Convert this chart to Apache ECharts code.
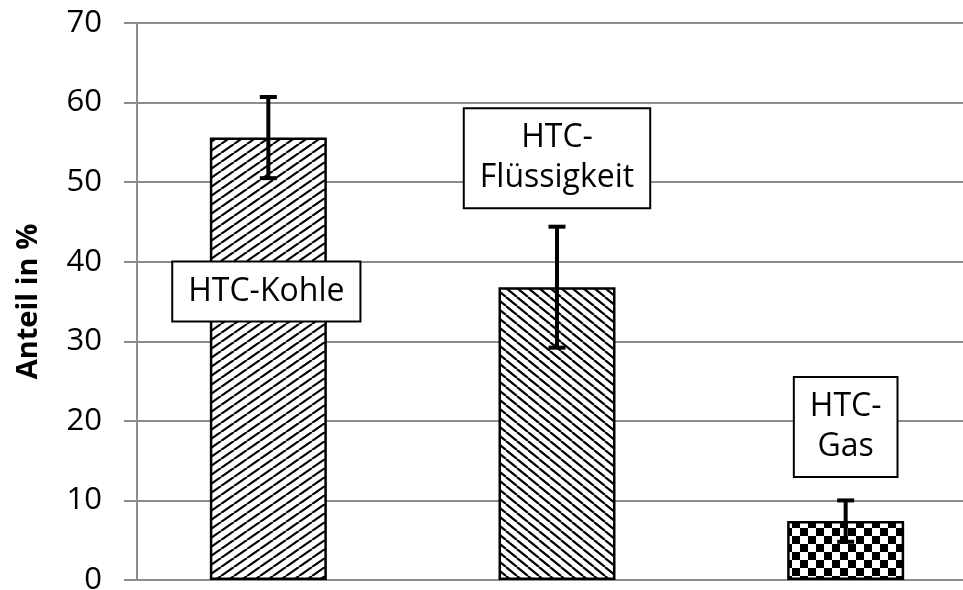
<!DOCTYPE html>
<html>
<head>
<meta charset="utf-8">
<script src="https://cdn.jsdelivr.net/npm/echarts@6/dist/echarts.min.js"></script>
<style>
html, body { margin: 0; padding: 0; background: #fff; }
#chart { width: 963px; height: 590px; }
</style>
</head>
<body>
<div id="chart"></div>
<script>
// data
var categories = ['HTC-Kohle', 'HTC-Flüssigkeit', 'HTC-Gas'];
var labelTexts = ['HTC-Kohle', 'HTC-\nFlüssigkeit', 'HTC-\nGas'];
var shares = [55.6, 36.8, 7.4];
var errLow = [50.5, 29.2, 4.8];
var errHigh = [60.7, 44.4, 10.0];

var FONT = '"Open Sans", "Noto Sans", sans-serif';
var GRID_COLOR = '#8c8c8c';

// fill patterns like the excel ones
function makeTile(kind) {
  var c = document.createElement('canvas');
  var w = 16, h = 16;
  if (kind === 'fwd') { w = 13; h = 9; }
  if (kind === 'back') { w = 11; h = 9; }
  c.width = w; c.height = h;
  var g = c.getContext('2d');
  g.fillStyle = '#fff';
  g.fillRect(0, 0, w, h);
  g.fillStyle = '#000';
  g.strokeStyle = '#000';
  g.lineWidth = 2.2;
  if (kind === 'check') {
    g.fillRect(0, 0, 8, 8);
    g.fillRect(8, 8, 8, 8);
  } else {
    g.beginPath();
    for (var k = -1; k <= 1; k++) {
      var dx = k * w;
      if (kind === 'fwd') {
        g.moveTo(dx, h); g.lineTo(dx + w, 0);
      } else {
        g.moveTo(dx, 0); g.lineTo(dx + w, h);
      }
    }
    g.stroke();
  }
  return c;
}
var tiles = [makeTile('fwd'), makeTile('back'), makeTile('check')];
var labelOffsets = [[-2, 183], [0, -80], [0, -45]];

var barData = shares.map(function (v, i) {
  return {
    value: v,
    itemStyle: { color: { image: tiles[i], repeat: 'repeat' } },
    label: {
      show: true,
      position: 'top',
      distance: 0,
      offset: labelOffsets[i],
      formatter: labelTexts[i]
    }
  };
});

var errData = categories.map(function (c, i) {
  return [i, errLow[i], errHigh[i]];
});

var chart = echarts.init(document.getElementById('chart'));
chart.setOption({
  animation: false,
  grid: {
    left: 124, width: 866, top: 23, bottom: 10,
    containLabel: false,
    outerBoundsMode: 'none'
  },
  xAxis: {
    type: 'category',
    data: categories,
    axisLine: { show: false },
    axisTick: { show: false },
    axisLabel: { show: false }
  },
  yAxis: {
    type: 'value',
    min: 0,
    max: 70,
    interval: 10,
    offset: -13,
    name: 'Anteil in %',
    nameLocation: 'middle',
    nameGap: 94,
    nameTextStyle: { fontFamily: FONT, fontSize: 29, fontWeight: 'bold', color: '#000' },
    axisLine: { show: true, lineStyle: { color: GRID_COLOR, width: 2 } },
    axisTick: { show: false },
    axisLabel: { fontFamily: FONT, fontSize: 31, color: '#000', margin: 35 },
    splitLine: { show: true, lineStyle: { color: GRID_COLOR, width: 2 } }
  },
  series: [
    {
      type: 'bar',
      data: barData,
      barWidth: 117,
      itemStyle: { borderColor: '#000', borderWidth: 2.5 },
      label: {
        fontFamily: FONT,
        fontSize: 32,
        lineHeight: 40,
        color: '#000',
        backgroundColor: '#fff',
        borderColor: '#000',
        borderWidth: 2,
        padding: [9, 15]
      },
      z: 2
    },
    {
      type: 'custom',
      data: errData,
      encode: { x: 0, y: [1, 2] },
      z: 3,
      renderItem: function (params, api) {
        var lo = api.coord([api.value(0), api.value(1)]);
        var hi = api.coord([api.value(0), api.value(2)]);
        var half = 8.5;
        var st = { stroke: '#000', lineWidth: 4 };
        return {
          type: 'group',
          children: [
            { type: 'line', shape: { x1: hi[0], y1: hi[1], x2: lo[0], y2: lo[1] }, style: st },
            { type: 'line', shape: { x1: hi[0] - half, y1: hi[1], x2: hi[0] + half, y2: hi[1] }, style: st },
            { type: 'line', shape: { x1: lo[0] - half, y1: lo[1], x2: lo[0] + half, y2: lo[1] }, style: st }
          ]
        };
      }
    }
  ]
});
</script>
</body>
</html>
